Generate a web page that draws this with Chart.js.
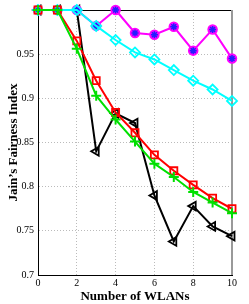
<!DOCTYPE html>
<html>
<head>
<meta charset="utf-8">
<script src="https://cdn.jsdelivr.net/npm/chart.js@4/dist/chart.umd.min.js"></script>
<style>
  html, body { margin: 0; padding: 0; background: #fff; }
  #wrap { width: 249px; height: 304px; }
</style>
</head>
<body>
<div id="wrap"><canvas id="c" width="249" height="304"></canvas></div>
<script>
// number of WLANs
const wlans = [0, 1, 2, 3, 4, 5, 6, 7, 8, 9, 10];

// Jain's fairness index, one array per scheme
const magentaSeries = [1, 1, 1, 0.982, 1, 0.974, 0.972, 0.981, 0.954, 0.978, 0.945];
const cyanSeries = [1, 1, 1, 0.982, 0.966, 0.952, 0.944, 0.932, 0.92, 0.91, 0.897];
const redSeries = [1, 1, 0.965, 0.92, 0.884, 0.861, 0.836, 0.818, 0.802, 0.787, 0.775];
const greenSeries = [1, 1, 0.956, 0.903, 0.876, 0.851, 0.826, 0.811, 0.794, 0.782, 0.77];
const blackSeries = [1, 1, 1, 0.84, 0.883, 0.872, 0.79, 0.738, 0.778, 0.755, 0.744];

const yTicks = [0.7, 0.75, 0.8, 0.85, 0.9, 0.95];

const serif = "'Liberation Serif', 'DejaVu Serif', serif";

function pts(values) {
  return wlans.map((x, i) => ({ x: x, y: values[i] }));
}

function line(values, color, style, extra) {
  return Object.assign({
    data: pts(values),
    borderColor: color,
    backgroundColor: "rgba(0,0,0,0)",
    borderWidth: 2,
    pointStyle: style,
    pointRadius: 4.5,
    pointBorderColor: color,
    pointBorderWidth: 1.8,
    pointBackgroundColor: "rgba(0,0,0,0)",
    tension: 0,
    clip: false,
  }, extra || {});
}

// frame: black top, grey right edge
const frame = {
  id: "frame",
  beforeDatasetsDraw(chart) {
    const { ctx, chartArea: a } = chart;
    ctx.save();
    ctx.lineWidth = 1;
    ctx.strokeStyle = "#000";
    ctx.beginPath();
    ctx.moveTo(a.left, a.top + 0.5);
    ctx.lineTo(a.right, a.top + 0.5);
    ctx.stroke();
    ctx.strokeStyle = "#999";
    ctx.lineWidth = 2;
    ctx.beginPath();
    ctx.moveTo(a.right, a.top);
    ctx.lineTo(a.right, a.bottom);
    ctx.stroke();
    ctx.restore();
  },
};

// first dataset is drawn on top
new Chart(document.getElementById("c"), {
  type: "line",
  data: {
    datasets: [
      line(greenSeries, "#00e000", "cross", { pointRadius: 5, pointBorderWidth: 2 }),
      line(redSeries, "#ff0000", "rect", { pointRadius: 5 }),
      line(cyanSeries, "#00ffff", "rectRot", { pointRadius: 5 }),
      line(magentaSeries, "#2020ff", "star", {
        showLine: false,
        pointRadius: 3.5,
        pointBorderWidth: 1.5,
      }),
      line(magentaSeries, "#ff00ff", "circle", {
        pointRadius: 4.5,
        pointBackgroundColor: "#ff00ff",
        pointBorderWidth: 1.5,
      }),
      line(blackSeries, "#000000", "triangle", { pointRotation: 270, pointRadius: 5 }),
    ],
  },
  options: {
    responsive: false,
    animation: false,
    events: [],
    layout: { padding: { left: 0, right: 17, top: 10, bottom: 0 } },
    plugins: { legend: { display: false }, tooltip: { enabled: false } },
    scales: {
      x: {
        type: "linear",
        min: 0,
        max: 10,
        afterFit(scale) {
          scale.height = 29;
        },
        grid: { color: "#bbbbbb", lineWidth: 1, drawTicks: false },
        border: { display: true, color: "#000", width: 1, dash: [1, 2] },
        ticks: {
          stepSize: 2,
          autoSkip: false,
          maxRotation: 0,
          padding: 2,
          color: "#000",
          font: { family: serif, size: 10 },
        },
        title: {
          display: true,
          text: "Number of WLANs",
          color: "#000",
          padding: { top: 0, bottom: 0 },
          font: { family: serif, size: 13, weight: "bold" },
        },
      },
      y: {
        min: 0.7,
        max: 1.0,
        afterBuildTicks(scale) {
          scale.ticks = yTicks.concat([1]).map((v) => ({ value: v }));
        },
        afterFit(scale) {
          scale.width = 38;
        },
        grid: { color: "#bbbbbb", lineWidth: 1, drawTicks: false },
        border: { display: true, color: "#000", width: 1, dash: [1, 2] },
        ticks: {
          padding: 4,
          color: "#000",
          font: { family: serif, size: 10 },
          callback: (v) => (v >= 1 ? "" : String(+v.toFixed(2))),
        },
        title: {
          display: true,
          text: "Jain’s Fairness Index",
          color: "#000",
          padding: { top: 6, bottom: 0 },
          font: { family: serif, size: 13, weight: "bold" },
        },
      },
    },
  },
  plugins: [frame],
});
</script>
</body>
</html>
